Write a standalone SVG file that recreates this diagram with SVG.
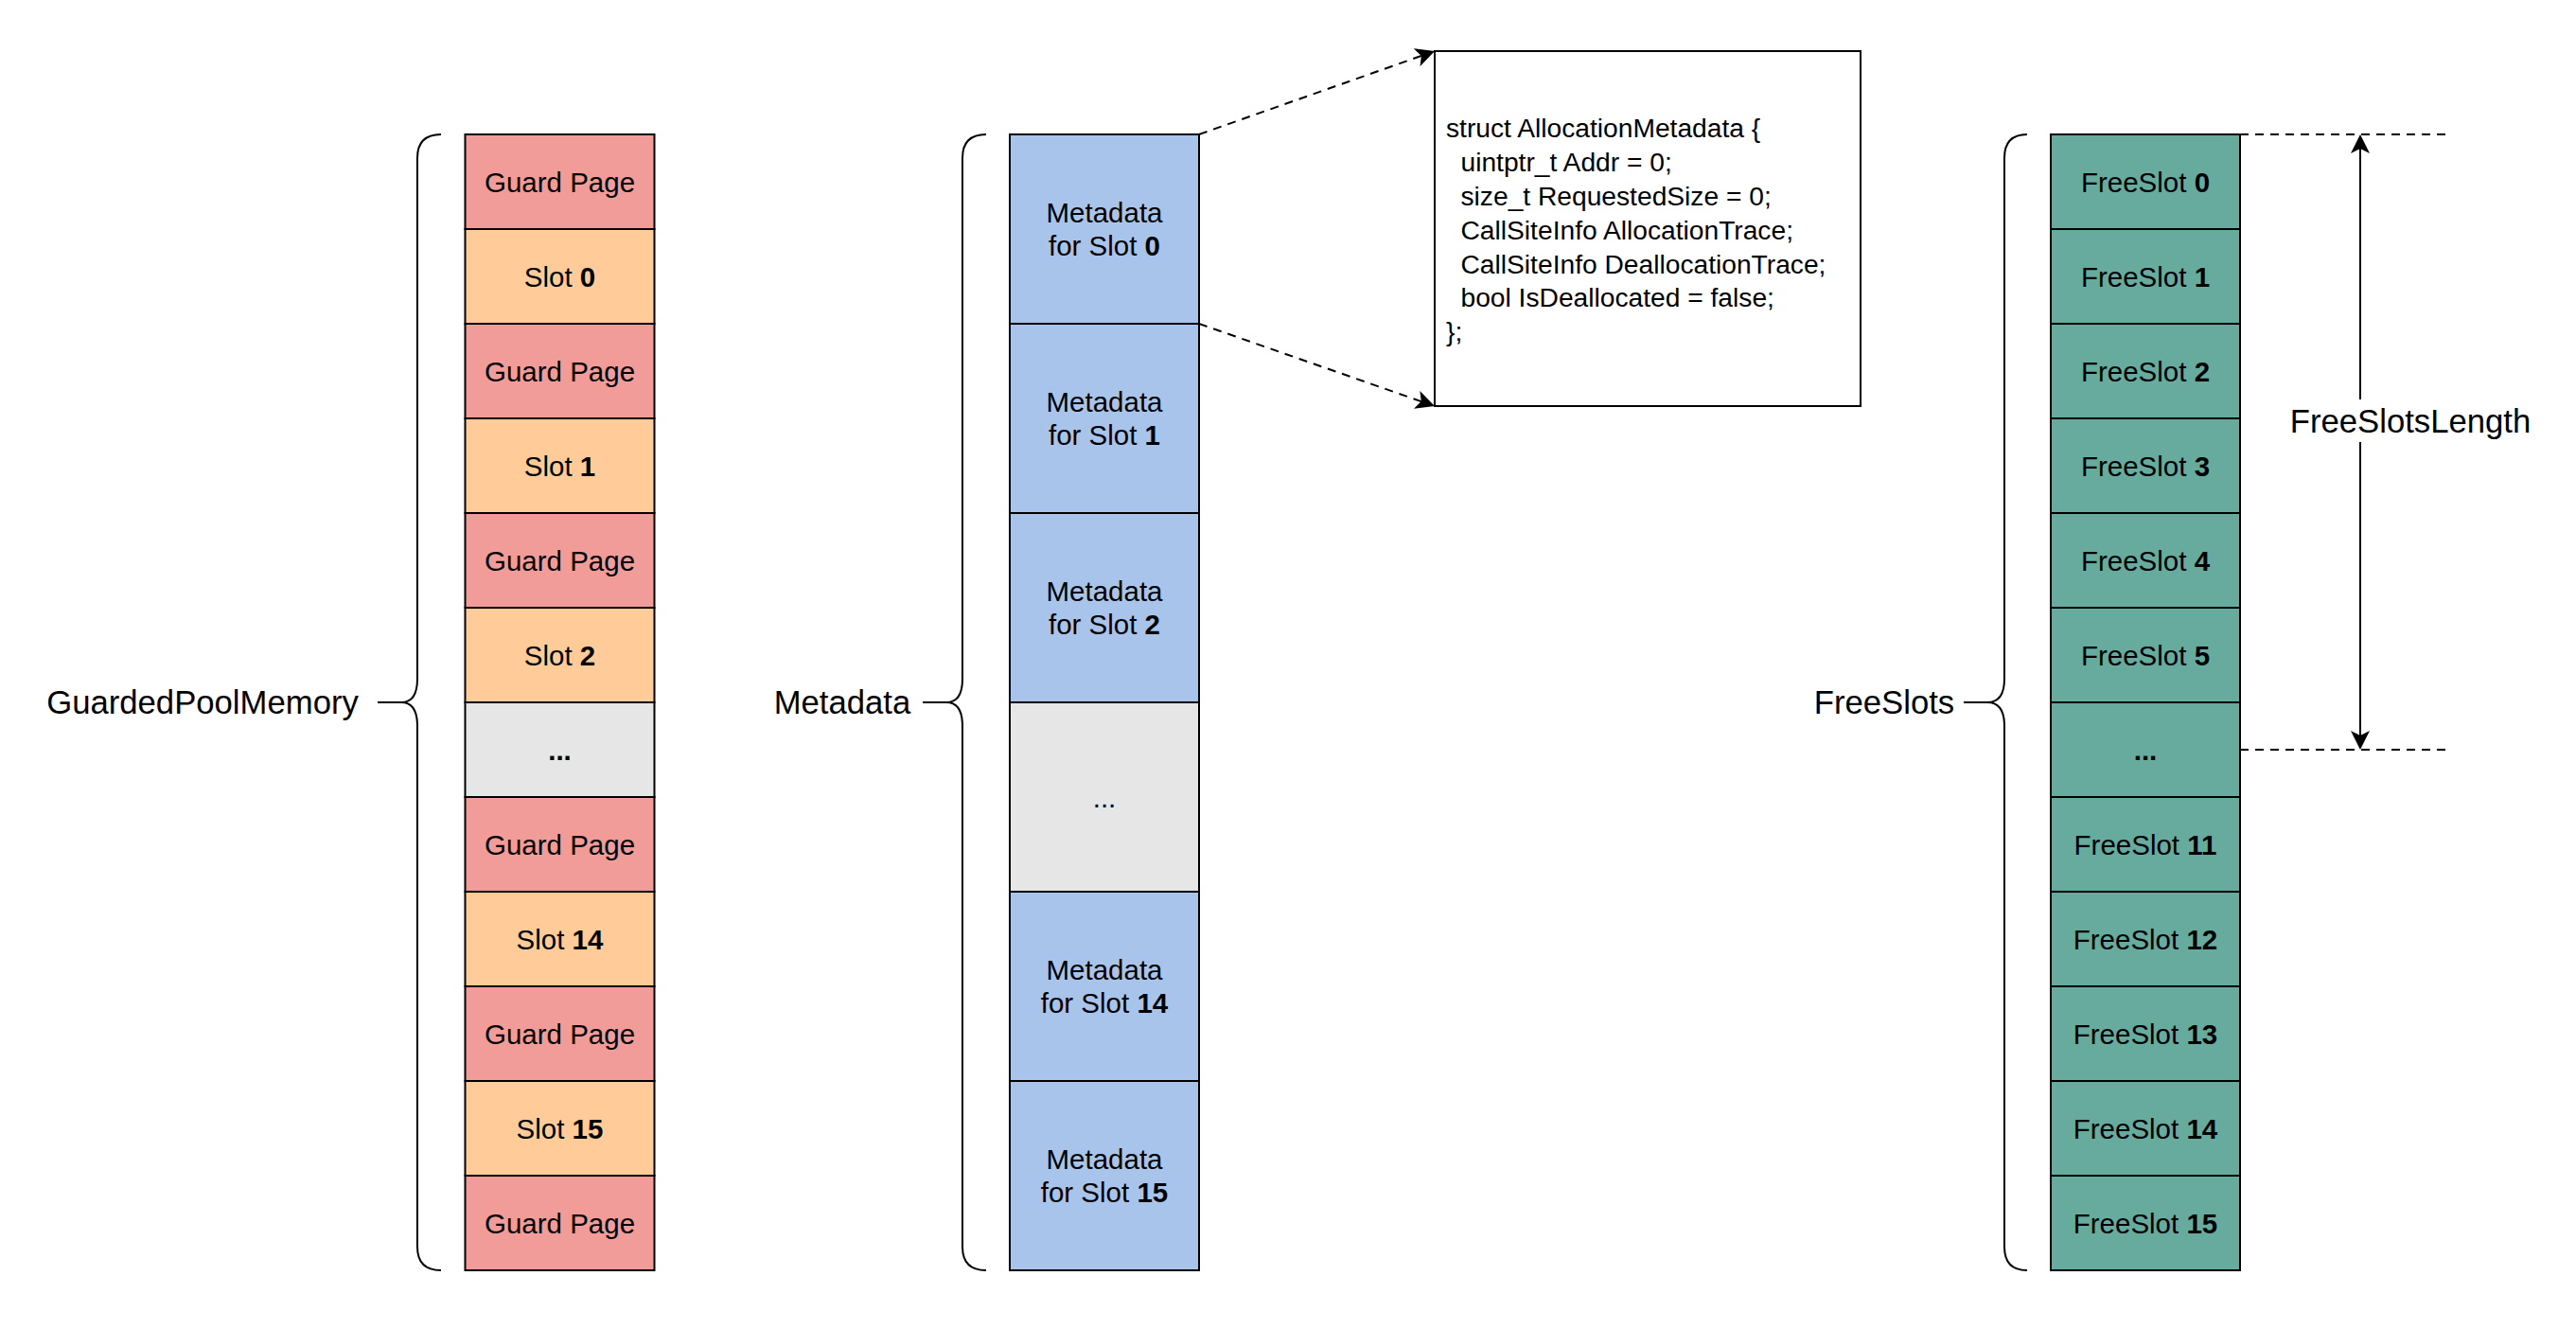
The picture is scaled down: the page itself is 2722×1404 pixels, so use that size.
<svg xmlns="http://www.w3.org/2000/svg" width="2722" height="1404" viewBox="0 0 2722 1404">
<style>
text{font-family:"Liberation Sans",Arial,Helvetica,sans-serif;fill:#000}
.c{font-size:29.5px;text-anchor:middle}
.big{font-size:34.7px;text-anchor:middle}
.code{font-size:28.2px}
.b{font-weight:bold}
.cell{stroke:#000;stroke-width:2}
.gp{fill:#F19C99}
.sl{fill:#FFCC99}
.gr{fill:#E6E6E6}
.md{fill:#A9C4EB}
.fs{fill:#67AB9F}
.brace{fill:none;stroke:#000;stroke-width:2}
.dash{fill:none;stroke:#000;stroke-width:2;stroke-dasharray:9 7}
.solid{fill:none;stroke:#000;stroke-width:2}
</style>
<defs>
<marker id="arr" viewBox="0 0 20 20" markerWidth="20" markerHeight="20" markerUnits="userSpaceOnUse" refX="5" refY="10" orient="auto-start-reverse">
<path d="M0,0 L20,10 L0,20 L5,10 Z" fill="#000" stroke="none"/>
</marker>
</defs>
<rect width="2722" height="1404" fill="#fff"/>

<g id="guarded-pool-memory">
<path class="brace" d="M466 142 Q441 142 441 167 L441 717 Q441 742 424 742 L399 742 M424 742 Q441 742 441 767 L441 1317 Q441 1342 466 1342"/>
<text class="big" x="214" y="754">GuardedPoolMemory</text>
<rect class="cell gp" x="491.5" y="142" width="200" height="100"/><text class="c" x="591.5" y="202.5">Guard Page</text>
<rect class="cell sl" x="491.5" y="242" width="200" height="100"/><text class="c" x="591.5" y="302.5">Slot <tspan class="b">0</tspan></text>
<rect class="cell gp" x="491.5" y="342" width="200" height="100"/><text class="c" x="591.5" y="402.5">Guard Page</text>
<rect class="cell sl" x="491.5" y="442" width="200" height="100"/><text class="c" x="591.5" y="502.5">Slot <tspan class="b">1</tspan></text>
<rect class="cell gp" x="491.5" y="542" width="200" height="100"/><text class="c" x="591.5" y="602.5">Guard Page</text>
<rect class="cell sl" x="491.5" y="642" width="200" height="100"/><text class="c" x="591.5" y="702.5">Slot <tspan class="b">2</tspan></text>
<rect class="cell gr" x="491.5" y="742" width="200" height="100"/><text class="c b" x="591.5" y="802.5">...</text>
<rect class="cell gp" x="491.5" y="842" width="200" height="100"/><text class="c" x="591.5" y="902.5">Guard Page</text>
<rect class="cell sl" x="491.5" y="942" width="200" height="100"/><text class="c" x="591.5" y="1002.5">Slot <tspan class="b">14</tspan></text>
<rect class="cell gp" x="491.5" y="1042" width="200" height="100"/><text class="c" x="591.5" y="1102.5">Guard Page</text>
<rect class="cell sl" x="491.5" y="1142" width="200" height="100"/><text class="c" x="591.5" y="1202.5">Slot <tspan class="b">15</tspan></text>
<rect class="cell gp" x="491.5" y="1242" width="200" height="100"/><text class="c" x="591.5" y="1302.5">Guard Page</text>
</g>

<g id="metadata">
<path class="brace" d="M1042 142 Q1017 142 1017 167 L1017 717 Q1017 742 1000 742 L975 742 M1000 742 Q1017 742 1017 767 L1017 1317 Q1017 1342 1042 1342"/>
<text class="big" x="890" y="754">Metadata</text>
<rect class="cell md" x="1067" y="142" width="200" height="200"/><text class="c" x="1167" y="234.8">Metadata</text><text class="c" x="1167" y="270.2">for Slot <tspan class="b">0</tspan></text>
<rect class="cell md" x="1067" y="342" width="200" height="200"/><text class="c" x="1167" y="434.8">Metadata</text><text class="c" x="1167" y="470.2">for Slot <tspan class="b">1</tspan></text>
<rect class="cell md" x="1067" y="542" width="200" height="200"/><text class="c" x="1167" y="634.8">Metadata</text><text class="c" x="1167" y="670.2">for Slot <tspan class="b">2</tspan></text>
<rect class="cell gr" x="1067" y="742" width="200" height="200"/><text class="c" x="1167" y="852.5">...</text>
<rect class="cell md" x="1067" y="942" width="200" height="200"/><text class="c" x="1167" y="1034.8">Metadata</text><text class="c" x="1167" y="1070.2">for Slot <tspan class="b">14</tspan></text>
<rect class="cell md" x="1067" y="1142" width="200" height="200"/><text class="c" x="1167" y="1234.8">Metadata</text><text class="c" x="1167" y="1270.2">for Slot <tspan class="b">15</tspan></text>
</g>

<g id="allocation-metadata-struct">
<rect x="1516" y="54" width="450" height="375" fill="#fff" stroke="#000" stroke-width="2"/>
<text class="code" x="1528" y="145">struct AllocationMetadata {</text>
<text class="code" x="1543.5" y="181">uintptr_t Addr = 0;</text>
<text class="code" x="1543.5" y="217">size_t RequestedSize = 0;</text>
<text class="code" x="1543.5" y="253">CallSiteInfo AllocationTrace;</text>
<text class="code" x="1543.5" y="289">CallSiteInfo DeallocationTrace;</text>
<text class="code" x="1543.5" y="324">bool IsDeallocated = false;</text>
<text class="code" x="1528" y="360">};</text>
</g>

<g id="free-slots">
<path class="brace" d="M2142 142 Q2118 142 2118 167 L2118 717 Q2118 742 2100 742 L2075 742 M2100 742 Q2118 742 2118 767 L2118 1317 Q2118 1342 2142 1342"/>
<text class="big" x="1991" y="754">FreeSlots</text>
<rect class="cell fs" x="2167" y="142" width="200" height="100"/><text class="c" x="2267" y="202.5">FreeSlot <tspan class="b">0</tspan></text>
<rect class="cell fs" x="2167" y="242" width="200" height="100"/><text class="c" x="2267" y="302.5">FreeSlot <tspan class="b">1</tspan></text>
<rect class="cell fs" x="2167" y="342" width="200" height="100"/><text class="c" x="2267" y="402.5">FreeSlot <tspan class="b">2</tspan></text>
<rect class="cell fs" x="2167" y="442" width="200" height="100"/><text class="c" x="2267" y="502.5">FreeSlot <tspan class="b">3</tspan></text>
<rect class="cell fs" x="2167" y="542" width="200" height="100"/><text class="c" x="2267" y="602.5">FreeSlot <tspan class="b">4</tspan></text>
<rect class="cell fs" x="2167" y="642" width="200" height="100"/><text class="c" x="2267" y="702.5">FreeSlot <tspan class="b">5</tspan></text>
<rect class="cell fs" x="2167" y="742" width="200" height="100"/><text class="c b" x="2267" y="802.5">...</text>
<rect class="cell fs" x="2167" y="842" width="200" height="100"/><text class="c" x="2267" y="902.5">FreeSlot <tspan class="b">11</tspan></text>
<rect class="cell fs" x="2167" y="942" width="200" height="100"/><text class="c" x="2267" y="1002.5">FreeSlot <tspan class="b">12</tspan></text>
<rect class="cell fs" x="2167" y="1042" width="200" height="100"/><text class="c" x="2267" y="1102.5">FreeSlot <tspan class="b">13</tspan></text>
<rect class="cell fs" x="2167" y="1142" width="200" height="100"/><text class="c" x="2267" y="1202.5">FreeSlot <tspan class="b">14</tspan></text>
<rect class="cell fs" x="2167" y="1242" width="200" height="100"/><text class="c" x="2267" y="1302.5">FreeSlot <tspan class="b">15</tspan></text>
</g>

<g id="connectors">
<line class="dash" x1="1267" y1="142" x2="1501.9" y2="59" marker-end="url(#arr)"/>
<line class="dash" x1="1267" y1="342" x2="1501.8" y2="424.1" marker-end="url(#arr)"/>
<line class="dash" x1="2367" y1="142" x2="2587" y2="142"/>
<line class="dash" x1="2367" y1="792" x2="2587" y2="792"/>
<line class="solid" x1="2494" y1="157" x2="2494" y2="777" marker-start="url(#arr)" marker-end="url(#arr)"/>
</g>

<g id="free-slots-length-label">
<rect x="2418" y="422" width="258" height="45" fill="#fff"/>
<text class="big" x="2547" y="457">FreeSlotsLength</text>
</g>
</svg>
